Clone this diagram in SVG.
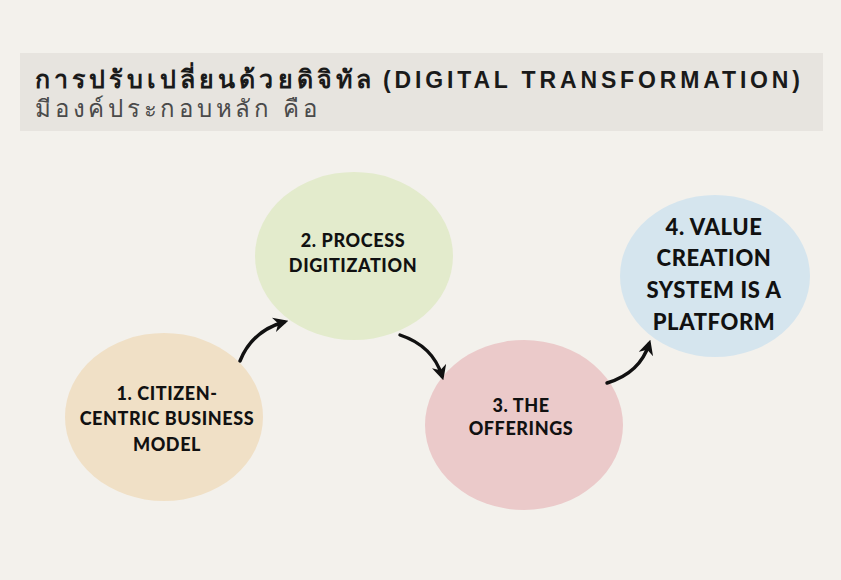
<svg xmlns="http://www.w3.org/2000/svg" width="841" height="580" viewBox="0 0 841 580">
  <defs>
    <style>
      .title { font-family: "Liberation Sans", "Noto Sans", sans-serif; font-weight: 700; font-size: 23px; fill: #1a1a1a; }
      .thai { font-size: 25px; }
      .sub { font-family: "Liberation Sans", "Noto Sans", sans-serif; font-weight: 400; font-size: 24px; fill: #4a4a4a; }
      .label { font-family: Lato, "Liberation Sans", sans-serif; font-weight: 900; font-size: 18px; letter-spacing: 0.6px; fill: #111; text-anchor: middle; }
      .big { font-size: 22px; }
      .conn { fill: none; stroke: #111; stroke-width: 3.4; stroke-linecap: round; }
    </style>
    <marker id="arrow" viewBox="0 0 10 10" refX="7" refY="5" markerWidth="4.4" markerHeight="4.4" orient="auto" markerUnits="strokeWidth">
      <path d="M0,0 L10,5 L0,10 L3,5 Z" fill="#111"/>
    </marker>
  </defs>

  <!-- page -->
  <rect x="0" y="0" width="841" height="580" fill="#f3f1ec"/>

  <!-- heading band -->
  <g id="heading">
    <rect x="20" y="53" width="803" height="78" fill="#e7e4df"/>
    <text class="title thai" x="35" y="88" textLength="336" lengthAdjust="spacing">การปรับเปลี่ยนด้วยดิจิทัล</text>
    <text class="title" x="383" y="88" textLength="417" lengthAdjust="spacing">(DIGITAL TRANSFORMATION)</text>
    <text class="sub" x="35" y="117" textLength="282" lengthAdjust="spacing">มีองค์ประกอบหลัก คือ</text>
  </g>

  <!-- step 1 -->
  <g id="node-1">
    <ellipse cx="164" cy="417" rx="99" ry="84" fill="#f0e0c6"/>
    <text class="label" x="167" y="400">1. CITIZEN-</text>
    <text class="label" x="167" y="425">CENTRIC BUSINESS</text>
    <text class="label" x="167" y="451">MODEL</text>
  </g>

  <!-- step 2 -->
  <g id="node-2">
    <ellipse cx="354" cy="256" rx="99" ry="84" fill="#e3ebcc"/>
    <text class="label" x="353" y="247">2. PROCESS</text>
    <text class="label" x="353" y="272">DIGITIZATION</text>
  </g>

  <!-- step 3 -->
  <g id="node-3">
    <ellipse cx="524" cy="425" rx="99" ry="85" fill="#ebcaca"/>
    <text class="label" x="521" y="412">3. THE</text>
    <text class="label" x="521" y="435">OFFERINGS</text>
  </g>

  <!-- step 4 -->
  <g id="node-4">
    <ellipse cx="715" cy="276" rx="95" ry="81" fill="#d5e5ee"/>
    <text class="label big" x="714" y="235">4. VALUE</text>
    <text class="label big" x="714" y="266">CREATION</text>
    <text class="label big" x="714" y="298">SYSTEM IS A</text>
    <text class="label big" x="714" y="330">PLATFORM</text>
  </g>

  <!-- connectors -->
  <g id="connectors">
    <path class="conn" d="M240,361 Q252,331 284,322" marker-end="url(#arrow)"/>
    <path class="conn" d="M400,335 Q433,346 442,376" marker-end="url(#arrow)"/>
    <path class="conn" d="M607,383 Q640,373 649,344" marker-end="url(#arrow)"/>
  </g>
</svg>
